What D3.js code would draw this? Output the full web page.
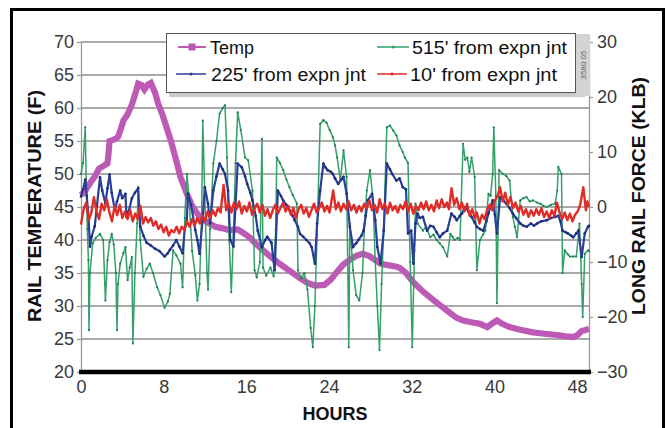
<!DOCTYPE html>
<html><head><meta charset="utf-8">
<script src="https://cdn.jsdelivr.net/npm/d3@7"></script>
<style>body{margin:0;background:#fff}svg{display:block}text{font-family:"Liberation Sans",Arial,Helvetica,sans-serif}</style>
</head><body><svg id="c" width="667" height="428"></svg>
<script>
// ---- data: [hours, value] ----
const temp = [[0,46.8],[0.41,47.5],[0.87,48.6],[1.33,49.6],[1.74,50.8],[2.15,51.2],[2.56,51.6],[2.66,53.0],[2.76,55.0],[3.17,55.2],[3.58,55.6],[3.89,57.0],[4.1,58.1],[4.5,59.0],[4.92,60.5],[5.22,62.0],[5.53,63.7],[5.84,63.5],[6.14,62.8],[6.45,63.5],[6.76,63.8],[7.17,62.3],[7.48,60.6],[7.88,59.0],[8.29,57.0],[8.7,55.0],[9.22,52.0],[9.63,49.5],[10.24,47.0],[10.75,45.2],[11.47,43.5],[12.29,42.6],[13.0,42.0],[13.62,41.8],[14.34,41.5],[15.16,41.6],[15.87,40.9],[16.38,40.3],[16.79,39.6],[17.51,38.6],[18.33,37.5],[19.05,36.6],[19.76,35.8],[20.48,35.0],[21.2,34.2],[21.91,33.5],[22.63,33.1],[23.55,33.2],[24.17,34.0],[24.78,35.2],[25.4,36.3],[26.01,37.0],[26.62,37.6],[27.24,37.9],[27.85,37.6],[28.47,37.0],[28.98,36.4],[29.7,36.2],[30.41,36.0],[30.82,35.8],[31.44,35.0],[32.15,33.6],[33.08,32.2],[34.1,30.9],[34.92,29.9],[35.74,28.9],[36.35,28.2],[36.97,27.8],[37.89,27.5],[38.6,27.3],[39.32,26.8],[39.73,27.3],[40.24,27.8],[40.76,27.3],[41.47,26.8],[42.5,26.4],[43.72,26.0],[44.85,25.8],[46.08,25.6],[46.9,25.4],[47.62,25.3],[48.03,25.6],[48.44,26.2],[49.15,26.5]];

const force225 = [[0,1.9],[0.2,3.2],[0.41,5.0],[0.56,2.0],[0.72,-1.7],[0.87,-7.2],[1.02,-5.4],[1.33,-3.5],[1.54,0.2],[1.84,5.4],[2.05,3.0],[2.36,0.7],[2.56,3.4],[2.76,5.9],[2.97,2.6],[3.28,-0.6],[3.48,1.0],[3.79,3.0],[3.99,1.6],[4.3,2.4],[4.4,-1.8],[4.61,-0.8],[4.92,1.6],[5.22,2.6],[5.53,3.4],[5.73,-3.5],[6.04,-5.2],[6.35,-6.5],[6.76,-7.0],[7.17,-7.6],[7.58,-8.0],[8.09,-9.0],[8.4,-8.4],[8.6,-7.8],[8.91,-7.0],[9.22,-6.0],[9.52,-7.2],[9.83,-8.4],[10.04,-4.0],[10.24,-2.5],[10.34,2.4],[10.65,0.4],[11.06,-4.2],[11.26,-6.0],[11.47,-8.5],[11.78,-2.0],[11.98,3.6],[12.29,0.6],[12.49,-3.0],[12.8,3.0],[13.11,5.6],[13.41,7.9],[13.72,6.8],[13.93,6.0],[14.23,3.0],[14.44,-6.0],[14.75,-7.2],[14.95,0.4],[15.16,7.9],[15.56,7.2],[15.87,5.6],[16.08,4.2],[16.38,2.6],[16.59,1.2],[16.9,-1.6],[17.1,-4.3],[17.51,-7.3],[17.82,-6.0],[18.02,-5.4],[18.43,-6.5],[18.74,-11.5],[19.05,3.0],[19.35,2.0],[19.56,1.2],[19.87,0.4],[20.17,-0.6],[20.48,-1.6],[20.68,-2.4],[20.99,-3.6],[21.2,-4.9],[21.5,-5.4],[21.81,-6.0],[22.12,-6.6],[22.32,-7.3],[22.63,-10.3],[22.84,-3.0],[23.14,3.0],[23.45,7.9],[23.65,7.2],[23.86,6.7],[24.17,6.4],[24.37,6.0],[24.58,5.2],[24.88,4.2],[25.19,5.0],[25.4,5.5],[25.7,2.4],[26.01,-3.6],[26.32,-7.3],[26.62,-6.6],[26.83,-6.0],[27.14,-5.2],[27.34,-4.3],[27.55,-1.6],[27.75,1.2],[28.16,2.4],[28.47,-2.4],[28.67,-7.3],[28.98,-10.3],[29.29,-4.3],[29.59,7.9],[29.9,6.8],[30.11,6.0],[30.52,4.8],[30.82,5.2],[31.13,3.6],[31.44,3.2],[31.64,-4.8],[31.95,-4.3],[32.15,-10.3],[32.36,-3.0],[32.56,-1.2],[32.77,-2.0],[33.08,-1.8],[33.48,-4.3],[33.79,-3.4],[34.1,-3.6],[34.41,-4.6],[34.71,-5.5],[35.02,-4.8],[35.43,-4.3],[35.84,-1.2],[36.15,-1.8],[36.35,-2.4],[36.66,-1.6],[36.86,-1.2],[37.17,0.0],[37.48,-0.8],[37.79,-1.8],[38.09,-2.8],[38.3,-3.6],[38.6,-4.0],[38.91,-4.3],[39.22,-2.6],[39.42,-1.2],[39.63,0.2],[39.83,1.2],[40.04,-1.4],[40.24,-4.8],[40.55,1.8],[40.86,1.2],[41.16,0.6],[41.47,-0.2],[41.78,-1.2],[42.09,-2.0],[42.5,-3.0],[42.8,-3.4],[43.11,-3.6],[43.52,-3.0],[43.83,-3.4],[44.13,-3.0],[44.54,-2.6],[45.06,-2.4],[45.47,-2.0],[45.88,-1.8],[46.18,-1.6],[46.39,-2.6],[46.59,-4.3],[46.9,-4.6],[47.1,-4.8],[47.41,-5.2],[47.62,-5.5],[47.92,-4.8],[48.13,-4.3],[48.44,-9.1],[48.74,-4.8],[49.05,-3.6],[49.15,-3.4]];

const force515 = [[0,6.0],[0.2,8.0],[0.41,14.5],[0.51,4.0],[0.61,-4.0],[0.72,-9.7],[0.77,-22.4],[0.87,-12.0],[1.13,-6.6],[1.43,-5.6],[1.84,-4.9],[2.15,-6.0],[2.36,-17.0],[2.56,-9.7],[2.76,-6.4],[2.97,-4.9],[3.17,-6.8],[3.38,-12.0],[3.48,-22.4],[3.58,-14.0],[3.79,-10.3],[4.1,-8.4],[4.3,-7.3],[4.51,-13.3],[4.71,-11.0],[4.92,-9.1],[5.02,-24.8],[5.22,-12.0],[5.43,-3.0],[5.53,3.6],[5.73,-6.0],[6.04,-12.7],[6.35,-11.2],[6.66,-10.3],[6.96,-12.0],[7.37,-14.6],[7.68,-16.0],[8.09,-18.3],[8.4,-17.2],[8.6,-15.8],[8.91,-7.9],[9.22,-8.8],[9.63,-10.3],[9.83,-14.6],[10.04,-2.0],[10.24,6.0],[10.44,2.0],[10.75,-8.0],[11.06,-12.4],[11.26,-17.0],[11.47,-14.0],[11.67,-2.0],[11.78,15.7],[11.98,2.0],[12.19,-12.0],[12.29,-15.0],[12.49,-4.0],[12.8,7.9],[13.11,12.0],[13.41,17.0],[13.72,18.0],[13.93,18.5],[14.13,9.0],[14.34,-6.0],[14.54,-15.5],[14.75,-5.0],[14.95,8.0],[15.16,17.2],[15.46,14.0],[15.87,9.0],[16.18,8.5],[16.59,3.0],[16.79,-11.5],[17.0,-12.8],[17.31,-10.0],[17.51,12.4],[17.61,-11.0],[17.92,-12.5],[18.33,-11.0],[18.64,-12.6],[18.84,-4.0],[18.94,9.0],[19.25,8.0],[19.56,6.7],[19.87,5.0],[20.17,3.6],[20.48,2.2],[20.89,0.6],[20.99,-11.5],[21.3,-13.0],[21.61,-12.0],[21.91,-15.0],[22.22,-22.0],[22.43,-25.5],[22.63,-18.0],[22.84,-5.0],[23.14,15.1],[23.45,15.8],[23.76,15.3],[24.06,14.0],[24.37,12.7],[24.58,11.2],[24.78,9.0],[25.09,4.8],[25.4,10.3],[25.7,5.5],[25.91,-25.5],[26.01,-3.0],[26.32,-11.5],[26.62,-16.0],[26.93,-17.0],[27.24,-12.0],[27.44,-3.0],[27.65,3.0],[27.96,6.7],[28.26,1.2],[28.47,-10.0],[28.67,-18.0],[28.88,-26.0],[29.08,-14.0],[29.29,-4.0],[29.59,14.5],[29.9,14.8],[30.21,13.9],[30.52,13.0],[30.82,11.2],[31.13,10.0],[31.33,9.0],[31.64,8.0],[31.85,-10.0],[32.05,-25.5],[32.26,-8.0],[32.36,0.6],[32.56,-3.0],[33.08,-4.3],[33.38,-3.6],[33.79,-5.5],[34.1,-5.0],[34.41,-6.0],[34.71,-6.6],[35.02,-7.3],[35.43,-9.0],[35.74,-4.9],[35.94,-5.4],[36.15,-6.0],[36.45,-5.6],[36.66,-6.0],[36.97,11.5],[37.17,8.6],[37.38,9.0],[37.58,6.4],[37.79,9.0],[38.09,5.5],[38.3,-11.5],[38.6,-6.0],[38.91,-5.0],[39.12,-4.3],[39.42,2.4],[39.63,2.0],[39.83,6.0],[39.94,14.5],[40.14,2.0],[40.24,-17.5],[40.45,6.7],[40.86,6.0],[41.16,5.6],[41.47,4.8],[41.78,-1.8],[41.98,-3.6],[42.19,-5.5],[42.5,1.2],[42.8,1.6],[43.11,1.8],[43.42,1.0],[43.72,1.2],[44.13,0.8],[44.44,0.6],[44.75,0.2],[45.06,0.0],[45.47,0.4],[45.88,0.6],[46.08,3.0],[46.18,7.3],[46.49,6.0],[46.59,-12.0],[46.8,-7.9],[47.1,-8.6],[47.31,-9.0],[47.62,-9.0],[47.92,-9.0],[48.23,-3.0],[48.44,-14.0],[48.54,-20.0],[48.74,-8.5],[49.05,-7.9],[49.15,-8.0]];

const force10 = [[0,-3.2],[0.25,-0.4],[0.5,0.8],[0.75,-2.4],[1.0,-1.0],[1.25,1.8],[1.5,-0.8],[1.75,-2.2],[2.0,0.6],[2.25,-0.6],[2.5,1.4],[2.75,-1.0],[3.0,-2.6],[3.25,0.2],[3.5,-1.5],[3.75,0.4],[4.0,-2.0],[4.25,-0.8],[4.5,-2.2],[4.75,-0.5],[5.0,-2.6],[5.25,-1.2],[5.5,-2.2],[5.75,0.2],[6.0,-3.0],[6.25,-1.8],[6.5,-2.8],[6.75,-2.0],[7.0,-3.4],[7.25,-2.6],[7.5,-4.0],[7.75,-3.2],[8.0,-4.6],[8.25,-3.6],[8.5,-5.2],[8.75,-4.2],[9.0,-4.6],[9.25,-3.6],[9.5,-4.8],[9.75,-3.6],[10.0,-4.2],[10.25,-2.6],[10.5,-3.6],[10.75,-2.2],[11.0,-3.4],[11.25,-2.0],[11.5,-3.0],[11.75,-1.6],[12.0,-2.6],[12.25,-0.8],[12.5,-2.0],[12.75,-0.6],[13.0,-1.6],[13.25,-0.2],[13.5,-1.0],[13.8,4.0],[14.05,-0.6],[14.3,0.6],[14.55,-1.0],[14.8,0.8],[15.05,-0.4],[15.3,1.0],[15.55,-1.2],[15.8,0.2],[16.05,-0.8],[16.3,0.8],[16.55,-1.4],[16.8,-0.2],[17.05,0.6],[17.3,-1.0],[17.55,0.4],[17.8,-1.6],[18.05,-0.4],[18.3,-2.0],[18.55,-0.6],[18.8,0.4],[19.05,-1.2],[19.3,-0.2],[19.55,0.8],[19.8,-0.8],[20.05,0.2],[20.3,-1.4],[20.55,-0.2],[20.8,-2.0],[21.05,-0.4],[21.3,0.4],[21.55,-1.2],[21.8,-0.2],[22.05,-1.8],[22.3,-0.6],[22.55,0.6],[22.8,-1.0],[23.05,-0.2],[23.3,0.8],[23.55,-0.8],[23.8,0.2],[24.05,-1.0],[24.4,3.0],[24.65,-0.4],[24.9,0.8],[25.15,-0.8],[25.4,0.6],[25.65,-0.4],[25.9,1.0],[26.15,-0.6],[26.4,0.4],[26.65,-1.0],[26.9,0.2],[27.15,-0.8],[27.4,0.6],[27.65,-0.2],[27.9,1.2],[28.15,-0.6],[28.4,0.4],[28.65,-1.0],[28.9,1.4],[29.15,-0.4],[29.4,0.6],[29.65,-1.2],[29.9,0.8],[30.15,-0.6],[30.4,0.2],[30.65,-1.0],[30.9,0.4],[31.15,-0.4],[31.4,1.0],[31.65,-0.8],[31.9,0.6],[32.15,-1.2],[32.4,0.2],[32.65,-0.6],[32.9,0.8],[33.15,-0.4],[33.4,1.0],[33.65,-0.6],[33.9,0.4],[34.15,-0.8],[34.4,1.2],[34.65,-0.2],[34.9,1.4],[35.15,0.0],[35.4,0.8],[35.6,-0.4],[35.85,3.4],[36.1,0.4],[36.35,1.6],[36.6,-0.4],[36.85,0.8],[37.1,-0.8],[37.35,0.6],[37.6,-1.6],[37.85,-0.4],[38.1,-2.0],[38.3,-1.0],[38.55,-3.0],[38.8,-1.4],[39.05,-2.2],[39.3,-0.4],[39.55,0.4],[39.8,-0.6],[40.05,1.2],[40.3,2.0],[40.55,3.6],[40.8,1.0],[41.05,2.6],[41.3,0.4],[41.55,1.8],[41.8,-0.2],[42.05,0.8],[42.3,-0.8],[42.55,0.2],[42.8,-1.4],[43.05,-0.4],[43.3,-1.8],[43.55,-0.6],[43.8,-1.6],[44.05,-0.4],[44.3,-1.4],[44.55,-0.2],[44.8,-1.8],[45.05,-0.8],[45.3,-2.0],[45.55,-0.6],[45.8,-1.6],[46.05,0.8],[46.3,-1.0],[46.55,-2.2],[46.8,-1.0],[47.05,-2.4],[47.3,-1.2],[47.55,-2.6],[47.8,-1.4],[48.05,-0.8],[48.3,0.4],[48.6,3.6],[48.85,-0.6],[49.0,1.0],[49.15,0.0]];

const hourTicks = [0,8,16,24,32,40,48];
const tempTicks = [20,25,30,35,40,45,50,55,60,65,70];
const forceTicks = [-30,-20,-10,0,10,20,30];
const legendLabels = ["Temp","225' from expn jnt","515' from expn jnt","10' from expn jnt"];
const xTitle = "HOURS", yLTitle = "RAIL TEMPERATURE (F)", yRTitle = "LONG RAIL FORCE (KLB)";

// ---- drawing ----
const C = {temp:"#bd5ab6", b:"#2a3f98", g:"#33a068", r:"#e12b27"};
const svg = d3.select("#c");
const x = d3.scaleLinear().domain([0,49.15]).range([81,589]);
const yL = d3.scaleLinear().domain([20,70]).range([372,42]);
const yR = d3.scaleLinear().domain([-30,30]).range([372,42]);

svg.append("rect").attr("x",11.5).attr("y",9.5).attr("width",652).attr("height",440)
  .attr("fill","none").attr("stroke","#000").attr("stroke-width",3);

// gridlines
svg.append("g").selectAll("line").data(tempTicks.filter(t=>t>20)).join("line")
  .attr("x1",81).attr("x2",589).attr("y1",d=>yL(d)).attr("y2",d=>yL(d))
  .attr("stroke","#8e8e8e").attr("stroke-width",1.3);

function styleAxis(g){
  g.select(".domain").attr("stroke","#9a9a9a").attr("stroke-width",1.3);
  g.selectAll(".tick line").attr("stroke","#9a9a9a").attr("stroke-width",1.2);
  g.selectAll(".tick text").attr("font-size",18).attr("fill","#383838")
    .attr("font-family","'Liberation Sans',Arial,sans-serif");
}
svg.append("g").attr("transform","translate(81,0)")
  .call(d3.axisLeft(yL).tickValues(tempTicks).tickSizeInner(4).tickSizeOuter(0).tickPadding(3)).call(styleAxis);
svg.append("g").attr("transform","translate(589,0)")
  .call(d3.axisRight(yR).tickValues(forceTicks).tickSizeInner(4).tickSizeOuter(0).tickPadding(4)).call(styleAxis);
const xa = svg.append("g").attr("transform","translate(0,372)")
  .call(d3.axisBottom(x).tickValues(hourTicks).tickSize(0).tickPadding(8)).call(styleAxis);
xa.select(".domain").remove();

// series
svg.append("defs").append("clipPath").attr("id","clip").append("rect")
  .attr("x",79).attr("y",36).attr("width",512).attr("height",336);
const plot = svg.append("g").attr("clip-path","url(#clip)");
const lineL = d3.line().x(d=>x(d[0])).y(d=>yL(d[1]));
const lineR = d3.line().x(d=>x(d[0])).y(d=>yR(d[1]));

plot.append("path").datum(temp).attr("d",lineL).attr("fill","none")
  .attr("stroke",C.temp).attr("stroke-width",6.2).attr("stroke-linejoin","miter");
plot.append("path").datum(force515).attr("d",lineR).attr("fill","none")
  .attr("stroke",C.g).attr("stroke-width",1.5).attr("stroke-linejoin","round");
plot.append("g").selectAll("circle").data(force515).join("circle")
  .attr("cx",d=>x(d[0])).attr("cy",d=>yR(d[1])).attr("r",1.1).attr("fill","#1f7d4a");
plot.append("path").datum(force225).attr("d",lineR).attr("fill","none")
  .attr("stroke",C.b).attr("stroke-width",2.2).attr("stroke-linejoin","round");
plot.append("g").selectAll("circle").data(force225).join("circle")
  .attr("cx",d=>x(d[0])).attr("cy",d=>yR(d[1])).attr("r",1.3).attr("fill","#1c2c7a");
plot.append("path").datum(force10).attr("d",lineR).attr("fill","none")
  .attr("stroke",C.r).attr("stroke-width",2.4).attr("stroke-linejoin","round");

// bottom thick line
svg.append("line").attr("x1",79).attr("x2",591).attr("y1",yL(20)).attr("y2",yL(20))
  .attr("stroke","#000").attr("stroke-width",4.5);

// axis titles
svg.append("text").attr("transform","translate(41,206) rotate(-90)").attr("text-anchor","middle")
  .attr("font-size",19).attr("font-weight","bold").attr("fill","#111")
  .attr("textLength",232).attr("lengthAdjust","spacingAndGlyphs").text(yLTitle);
svg.append("text").attr("transform","translate(645,196) rotate(-90)").attr("text-anchor","middle")
  .attr("font-size",19).attr("font-weight","bold").attr("fill","#111")
  .attr("textLength",238).attr("lengthAdjust","spacingAndGlyphs").text(yRTitle);
svg.append("text").attr("x",335).attr("y",420).attr("text-anchor","middle")
  .attr("font-size",18).attr("font-weight","bold").attr("fill","#111").text(xTitle);

// legend
const lg = svg.append("g");
lg.append("rect").attr("x",169).attr("y",36).attr("width",416).attr("height",61).attr("fill","#bdbdbd").attr("opacity",0.8);
lg.append("rect").attr("x",575).attr("y",34).attr("width",15).attr("height",62).attr("fill","#d4d4d4");
lg.append("text").attr("transform","translate(586,65) rotate(-90)").attr("text-anchor","middle")
  .attr("font-size",8).attr("fill","#666").text("3580 05");
lg.append("rect").attr("x",166.5).attr("y",33.5).attr("width",409).attr("height",59)
  .attr("fill","#fff").attr("stroke","#555").attr("stroke-width",1);
const items = [
  {label:legendLabels[0], c:C.temp, x1:178, x2:206, tx:210, y:47, tl:null, mk:"sq"},
  {label:legendLabels[1], c:C.b, x1:176, x2:206, tx:211, y:74, tl:155, mk:"dot"},
  {label:legendLabels[2], c:C.g, x1:377, x2:409, tx:412, y:47, tl:155, mk:"dot"},
  {label:legendLabels[3], c:C.r, x1:377, x2:407, tx:410, y:74, tl:147, mk:"dot"}
];
items.forEach(it=>{
  lg.append("line").attr("x1",it.x1).attr("x2",it.x2).attr("y1",it.y).attr("y2",it.y)
    .attr("stroke",it.c).attr("stroke-width",it.mk==="sq"?2:1.5);
  const cx=(it.x1+it.x2)/2;
  if(it.mk==="sq") lg.append("rect").attr("x",cx-3.5).attr("y",it.y-3.5).attr("width",7).attr("height",7).attr("fill",it.c);
  else lg.append("circle").attr("cx",cx).attr("cy",it.y).attr("r",1.6).attr("fill",it.c);
  const t = lg.append("text").attr("x",it.tx).attr("y",it.y+6.5).attr("font-size",18).attr("fill","#111").text(it.label);
  if(it.tl) t.attr("textLength",it.tl).attr("lengthAdjust","spacingAndGlyphs");
});
</script></body></html>
